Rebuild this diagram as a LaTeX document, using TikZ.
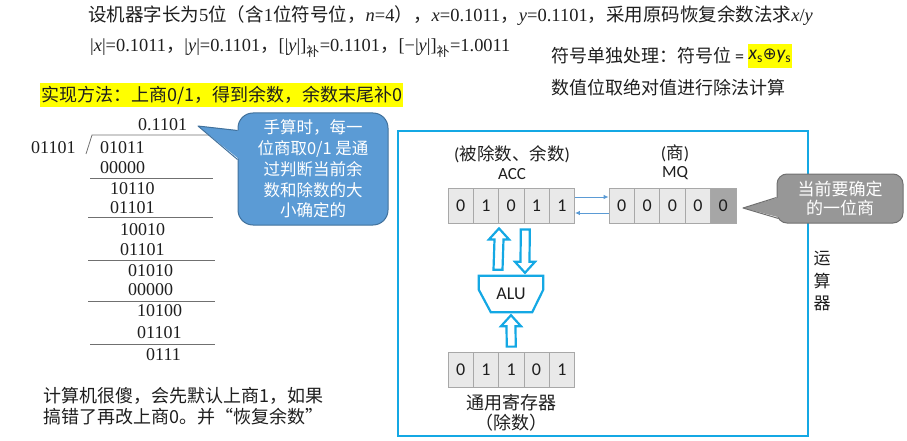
\documentclass[tikz,border=0pt]{standalone}
\usepackage{fontspec}
\setmainfont{Liberation Serif}
\newfontfamily\cjk{Noto Sans CJK SC}
\newfontfamily\calib{Carlito}
\newfontfamily\dejavu{DejaVu Sans}
\newcommand\zh[1]{{\cjk #1}}
\newcommand\fs[2]{\fontsize{#1}{#2}\selectfont}
\usetikzlibrary{arrows.meta,calc}

\definecolor{frameblue}{HTML}{14A8E4}
\definecolor{tipblue}{HTML}{5B9BD5}
\definecolor{tipblueedge}{HTML}{41719C}
\definecolor{tipgray}{HTML}{979797}
\definecolor{tipgrayedge}{HTML}{707070}
\definecolor{cellfill}{HTML}{E9E9E9}
\definecolor{celledge}{HTML}{A8A8A8}
\definecolor{celldark}{HTML}{A6A6A6}
\definecolor{hl}{HTML}{FFFF00}
\definecolor{linkblue}{HTML}{5B9BD5}
\definecolor{ink}{HTML}{1E1E1E}
\definecolor{rule}{HTML}{707070}

% hollow block arrow from #1 (tail) to #2 (tip), vertical
\newcommand\hollowv[2]{%
  \draw[hollow] let \p1=(#1), \p2=(#2),
      \n2={\y2-11*(\y2-\y1)/abs(\y2-\y1)} in
    (\x2,\y2) -- (\x2+10pt,{\n2*1pt}) -- (\x2+4.5pt,{\n2*1pt})
    -- (\x1+4.5pt,\y1) -- (\x1-4.5pt,\y1) -- (\x2-4.5pt,{\n2*1pt})
    -- (\x2-10pt,{\n2*1pt}) -- cycle;}

\begin{document}
\begin{tikzpicture}[x=1pt,y=-1pt,
  every node/.style={inner sep=0pt, text=ink},
  txt/.style={anchor=west},
  num/.style={anchor=west, font=\fs{18}{20}},
  divrule/.style={draw=rule, line width=0.8pt},
  cell/.style={draw=celledge, fill=cellfill, line width=0.8pt,
    minimum width=25.3pt, minimum height=35pt, font=\calib\fs{18}{20}},
  darkcell/.style={cell, fill=celldark},
  hollow/.style={draw=frameblue, fill=white, line width=2.2pt, line join=miter},
  link/.style={draw=linkblue, line width=1pt, -{Latex[length=5pt,width=4.5pt]}},
  note/.style={align=center, text=white, font=\cjk\fs{16.5}{20.8}}
]
\useasboundingbox (0,0) rectangle (907,441);

% ---------- heading lines ----------
\node[txt, font=\fs{18.5}{20}] (title) at (88,16)
  {\zh{设机器字长为}5\zh{位（含}1\zh{位符号位，}\textit{n}=4\zh{），}\textit{x}=0.1011\zh{，}\textit{y}=0.1101\zh{，采用原码恢复余数法求}\textit{x}/\textit{y}};
\node[txt, font=\fs{18.4}{20}] (absline) at (90,48)
  {|\textit{x}|=0.1011\zh{，}|\textit{y}|=0.1101\zh{，}[|\textit{y}|]\textsubscript{\zh{补}}=0.1101\zh{，}[−|\textit{y}|]\textsubscript{\zh{补}}=1.0011};

\node[txt, font=\cjk\fs{18}{20}] (signnote) at (551,56) {符号单独处理：符号位 {\calib=}\,};
\node[anchor=west, fill=hl, inner xsep=1pt, minimum height=24pt,
      font=\calib\itshape\fs{19.5}{20}] (xsys) at (signnote.east)
  {x\textsubscript{\upshape s}{\dejavu\upshape\fs{16.5}{20}⊕}y\textsubscript{\upshape s}};
\node[txt, font=\cjk\fs{18}{20}] (absnote) at (551,88) {数值位取绝对值进行除法计算};

\node[anchor=west, fill=hl, inner xsep=1pt, minimum height=24pt,
      font=\cjk\fs{18}{20}] (method) at (40,95) {实现方法：上商0/1，得到余数，余数末尾补0};

% ---------- long division ----------
\node[num] (quot) at (138,125) {0.1101};
\node[num] (divisor) at (31,148) {01101};
\node[num] (r0) at (100,148) {01011};
\node[num] (s0) at (100,168) {00000};
\node[num] (r1) at (110,189) {10110};
\node[num] (s1) at (110,208) {01101};
\node[num] (r2) at (120,230) {10010};
\node[num] (s2) at (120,250) {01101};
\node[num] (r3) at (128,271) {01010};
\node[num] (s3) at (128,290) {00000};
\node[num] (r4) at (137,311) {10100};
\node[num] (s4) at (137,333) {01101};
\node[num] (r5) at (146,355) {0111};

\draw[divrule] (86,154) -- (92,135) -- (213,135);
\draw[divrule] (90,178) -- (213,178);
\draw[divrule] (88,217) -- (213,217);
\draw[divrule] (88,260) -- (215,260);
\draw[divrule] (88,301) -- (215,301);
\draw[divrule] (90,344) -- (215,344);

\node[anchor=west, align=left, font=\cjk\fs{18}{20.5}] (remark) at (43,406)
  {计算机很傻，会先默认上商1，如果\\搞错了再改上商0。并“恢复余数”};

% ---------- callout: manual quotient ----------
\node[note, draw=tipblueedge, fill=tipblue, line width=1pt, rounded corners=15pt,
      minimum width=150pt, minimum height=112pt] (hand) at (313,169)
  {手算时，每一\\位商取0/1 是通\\过判断当前余\\数和除数的大\\小确定的};
\coordinate (handtip) at (198,126);
\fill[tipblue] (handtip) -- ($(hand.north west)+(2,18)$) -- ($(hand.north west)+(2,47)$) -- cycle;
\draw[tipblueedge, line width=1pt, line join=round]
  ($(hand.north west)+(0,18)$) -- (handtip) -- ($(hand.north west)+(0,47)$);

% ---------- arithmetic unit ----------
\node[draw=frameblue, line width=2.5pt, minimum width=410pt, minimum height=305pt] (unit) at (603,283.5) {};
\node[align=center, font=\cjk\fs{17}{22.5}] (unitname) at (822,281) {运\\算\\器};

\node[font=\cjk\fs{17.5}{20}] (acclabel) at (512,154) {{\calib(}被除数、余数{\calib)}};
\node[font=\calib\fs{17}{20}] (accname) at (512,174) {ACC};
\node[font=\cjk\fs{17.5}{20}] (mqlabel) at (675,153) {{\calib(}商{\calib)}};
\node[font=\calib\fs{17}{20}] (mqname) at (675,173) {MQ};

\foreach \v [count=\i] in {0,1,0,1,1}
  \node[cell] (acc\i) at ({448+12.65+(\i-1)*25.3},205.5) {\v};
\foreach \v [count=\i] in {0,0,0,0}
  \node[cell] (mq\i) at ({609+12.7+(\i-1)*25.4},205.5) {\v};
\node[darkcell] (mq5) at ({609+12.7+4*25.4},205.5) {0};

\draw[link] ($(acc5.east)+(0,-8.5)$) -- ($(mq1.west)+(0,-8.5)$);
\draw[link] ($(mq1.west)+(0,7.5)$) -- ($(acc5.east)+(0,7.5)$);

% ALU outline (drawn without fill so the label stays visible)
\node[minimum width=64pt, minimum height=36pt, font=\calib\fs{18}{20}] (alu) at (511,294) {ALU};
\draw[hollow, fill=none] (alu.north west) -- (alu.north east) -- ($(alu.north east)+(0,14)$)
  -- ($(alu.south east)+(-11,0)$) -- ($(alu.south west)+(12,0)$)
  -- ($(alu.north west)+(0,14)$) -- cycle;

\foreach \v [count=\i] in {0,1,1,0,1}
  \node[cell] (gr\i) at ({448+12.65+(\i-1)*25.3},369.5) {\v};
\node[align=center, font=\cjk\fs{18}{20}] (grname) at (511,413) {通用寄存器\\（除数）};

% block arrows between ALU and registers
\coordinate (upfrom) at ($(alu.north)+(-13,-6)$);
\coordinate (upto)   at ($(acc2.south east)+(0,5)$);
\hollowv{upfrom}{upto}
\coordinate (downfrom) at ($(acc3.south east)+(1,6)$);
\coordinate (downto)   at ($(alu.north)+(14,-3)$);
\hollowv{downfrom}{downto}
\coordinate (grfrom) at ($(gr3.north)+(0,-5)$);
\coordinate (grto)   at ($(alu.south)+(0,3)$);
\hollowv{grfrom}{grto}

% ---------- callout: current quotient bit ----------
\node[align=center, text=white, font=\cjk\fs{17}{19}, draw=tipgrayedge, fill=tipgray,
      line width=1pt, rounded corners=10pt, minimum width=126pt, minimum height=49pt]
  (curbit) at (840,198.5) {当前要确定\\的一位商};
\coordinate (bittip) at (743,208);
\fill[tipgray] (bittip) -- ($(curbit.north west)+(2,24)$) -- ($(curbit.north west)+(3,44)$) -- cycle;
\draw[tipgrayedge, line width=1pt, line join=round]
  ($(curbit.north west)+(0,24)$) -- (bittip) -- ($(curbit.north west)+(2,45)$);
\end{tikzpicture}
\end{document}
